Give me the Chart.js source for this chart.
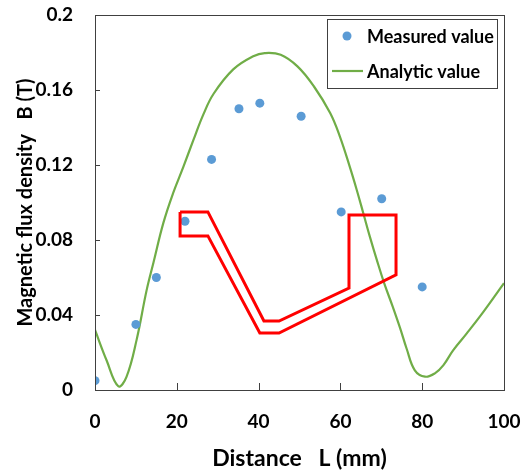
<!DOCTYPE html>
<html>
<head>
<meta charset="utf-8">
<script src="https://cdn.jsdelivr.net/npm/chart.js@4/dist/chart.umd.min.js"></script>
<style>
  html, body { margin: 0; padding: 0; background: #ffffff; }
  #wrap { width: 528px; height: 472px; }
</style>
</head>
<body>
<div id="wrap"><canvas id="c" width="528" height="472"></canvas></div>
<script>
// ---- data ----
const measuredX = [0, 10, 15, 22, 28.5, 35.2, 40.3, 50.4, 60.2, 70.1, 80];
const measuredY = [0.005, 0.035, 0.060, 0.090, 0.123, 0.150, 0.153, 0.146, 0.095, 0.102, 0.055];

const analyticX = [0, 2.8, 5.7, 7.7, 10.2, 12.6, 14.3, 16.7, 19.1, 21.6, 24.0, 26.5, 29.0, 33.8, 38.7, 41.5, 45.4, 49.5, 53.5, 57.5, 59.9, 62.3, 64.0, 65.6, 67.2, 68.9, 70.7, 72.7, 74.6, 76.2, 78.2, 80.7, 83.1, 85.2, 87.6, 90.9, 95.0, 100];
const analyticY = [0.032, 0.016, 0.002, 0.007, 0.027, 0.053, 0.068, 0.089, 0.105, 0.119, 0.133, 0.147, 0.158, 0.171, 0.178, 0.1797, 0.1788, 0.1726, 0.162, 0.1477, 0.135, 0.119, 0.1067, 0.0943, 0.0818, 0.0694, 0.057, 0.045, 0.033, 0.022, 0.0105, 0.0071, 0.0089, 0.0133, 0.0213, 0.0302, 0.0418, 0.057];

// red magnetic-circuit sketch outline (in data units)
const shapeX = [20.8, 27.6, 41.3, 45.0, 62.1, 62.1, 73.6, 73.6, 45.0, 40.3, 27.6, 20.8, 20.8];
const shapeY = [0.0950, 0.0950, 0.0368, 0.0368, 0.0544, 0.0934, 0.0934, 0.0614, 0.0304, 0.0304, 0.0822, 0.0822, 0.0950];

const xTicks = [0, 20, 40, 60, 80, 100];
const yTicks = [0, 0.04, 0.08, 0.12, 0.16, 0.2];
const yTickLabels = ['0', '0.04', '0.08', '0.12', '0.16', '0.2'];

const seriesNames = ['Measured value', 'Analytic value'];
const xTitle = 'Distance   L (mm)';
const yTitle = 'Magnetic flux density   B (T)';

// ---- build ----
const zip = (xs, ys) => xs.map((x, i) => ({ x: x, y: ys[i] }));
const FONT = 'Lato, "Open Sans", sans-serif';
const AXIS = '#404040';

const frame = {
  id: 'frame',
  afterDatasetsDraw(chart) {
    const { ctx, chartArea: a, scales } = chart;
    ctx.save();
    ctx.strokeStyle = AXIS;
    ctx.lineWidth = 1;
    ctx.strokeRect(Math.round(a.left) + 0.5, Math.round(a.top) + 0.5,
                   Math.round(a.right - a.left), Math.round(a.bottom - a.top));
    ctx.beginPath();
    scales.y.ticks.forEach(t => {
      const py = Math.round(scales.y.getPixelForValue(t.value)) + 0.5;
      ctx.moveTo(a.left, py); ctx.lineTo(a.left + 5, py);
    });
    scales.x.ticks.forEach(t => {
      const px = Math.round(scales.x.getPixelForValue(t.value)) + 0.5;
      ctx.moveTo(px, a.bottom); ctx.lineTo(px, a.bottom - 7);
    });
    ctx.stroke();
    ctx.restore();
  },
  afterDraw(chart) {
    const { ctx, chartArea: a } = chart;
    const ds = chart.data.datasets;
    const bx = a.right - 177, by = a.top + 4, bw = 170, bh = 69;
    ctx.save();
    ctx.fillStyle = '#ffffff';
    ctx.fillRect(bx, by, bw, bh);
    ctx.strokeStyle = AXIS;
    ctx.lineWidth = 1;
    ctx.strokeRect(Math.round(bx) + 0.5, Math.round(by) + 0.5, bw, bh);
    ctx.font = 'bold 18px ' + FONT;
    ctx.fillStyle = '#000000';
    ctx.textBaseline = 'middle';
    ctx.textAlign = 'left';
    // entry 1: point
    ctx.beginPath();
    ctx.fillStyle = ds[0].backgroundColor;
    ctx.arc(bx + 20, by + 17, 4.5, 0, Math.PI * 2);
    ctx.fill();
    ctx.fillStyle = '#000000';
    ctx.fillText(ds[0].label, bx + 40, by + 18);
    // entry 2: line
    ctx.beginPath();
    ctx.strokeStyle = ds[1].borderColor;
    ctx.lineWidth = ds[1].borderWidth;
    ctx.moveTo(bx + 5, by + 52); ctx.lineTo(bx + 36, by + 52);
    ctx.stroke();
    ctx.fillText(ds[1].label, bx + 40, by + 53);
    ctx.restore();
  }
};

const zeroPad = s => { s.paddingTop = 0; s.paddingBottom = 0; s.paddingLeft = 0; s.paddingRight = 0; };

new Chart(document.getElementById('c'), {
  type: 'scatter',
  data: {
    datasets: [
      {
        label: seriesNames[0],
        data: zip(measuredX, measuredY),
        showLine: false,
        pointRadius: 4.5,
        pointHoverRadius: 4.5,
        backgroundColor: '#5B9BD5',
        borderColor: '#5B9BD5',
        borderWidth: 0,
        order: 1
      },
      {
        label: seriesNames[1],
        data: zip(analyticX, analyticY),
        showLine: true,
        pointRadius: 0,
        borderColor: '#70AD47',
        backgroundColor: '#70AD47',
        borderWidth: 2.2,
        tension: 0.4,
        order: 2
      },
      {
        label: 'circuit',
        data: zip(shapeX, shapeY),
        showLine: true,
        pointRadius: 0,
        borderColor: '#FF0000',
        borderWidth: 3,
        tension: 0,
        borderJoinStyle: 'miter',
        order: 0
      }
    ]
  },
  options: {
    responsive: false,
    animation: false,
    devicePixelRatio: 1,
    layout: { padding: { top: 15, right: 24, left: 0, bottom: 0 } },
    plugins: { legend: { display: false }, tooltip: { enabled: false } },
    scales: {
      x: {
        type: 'linear',
        min: 0, max: 100,
        afterBuildTicks: s => { s.ticks = xTicks.map(v => ({ value: v })); },
        afterFit: s => { s.height = 82; zeroPad(s); },
        grid: { display: false, drawTicks: false },
        border: { display: false },
        ticks: { color: '#000', font: { family: FONT, size: 19, weight: 'bold' }, padding: 20, maxRotation: 0 },
        title: { display: true, text: xTitle, color: '#000', font: { family: FONT, size: 23, weight: 'bold' }, padding: { top: 3, bottom: 0 } }
      },
      y: {
        type: 'linear',
        min: 0, max: 0.2,
        afterBuildTicks: s => { s.ticks = yTicks.map(v => ({ value: v })); },
        afterFit: s => { s.width = 95; zeroPad(s); },
        grid: { display: false, drawTicks: false },
        border: { display: false },
        ticks: {
          color: '#000', font: { family: FONT, size: 19, weight: 'bold' }, padding: 22,
          callback: (v, i) => yTickLabels[i]
        },
        title: { display: true, text: yTitle, color: '#000', font: { family: FONT, size: 20, weight: 'bold' }, padding: { top: 14, bottom: 0 } }
      }
    }
  },
  plugins: [frame]
});
</script>
</body>
</html>
